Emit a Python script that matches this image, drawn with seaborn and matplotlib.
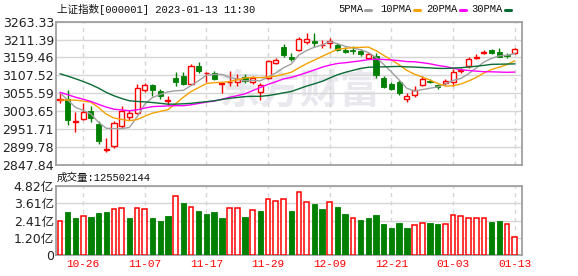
import numpy as np
import pandas as pd
import matplotlib
matplotlib.use("Agg")
import matplotlib.pyplot as plt
import seaborn as sns
from matplotlib.lines import Line2D

# ---------------- data ----------------
dates = ["10-21", "10-24", "10-25", "10-26", "10-27", "10-28", "10-31",
         "11-01", "11-02", "11-03", "11-04", "11-07", "11-08", "11-09", "11-10", "11-11",
         "11-14", "11-15", "11-16", "11-17", "11-18", "11-21", "11-22", "11-23", "11-24",
         "11-25", "11-28", "11-29", "11-30",
         "12-01", "12-02", "12-05", "12-06", "12-07", "12-08", "12-09", "12-12", "12-13",
         "12-14", "12-15", "12-16", "12-19", "12-20", "12-21", "12-22", "12-23", "12-26",
         "12-27", "12-28", "12-29", "12-30",
         "01-03", "01-04", "01-05", "01-06", "01-09", "01-10", "01-11", "01-12", "01-13"]

opens = [3035, 3040, 2972, 2980, 3004, 2966, 2890, 2901, 2961, 2985, 2998, 3066, 3078, 3062, 3034,
         3101, 3104, 3082, 3135, 3113, 3115, 3083, 3087, 3087, 3103, 3088, 3058, 3100, 3143, 3191,
         3160, 3181, 3204, 3208, 3196, 3200, 3197, 3180, 3181, 3179, 3159, 3165, 3101, 3082, 3088,
         3038, 3049, 3080, 3092, 3078, 3084, 3088, 3120, 3134, 3159, 3173, 3180, 3175, 3167, 3172]
highs = [3056, 3065, 3002, 3028, 3017, 2975, 2925, 2975, 3019, 3008, 3083, 3086, 3082, 3068, 3046,
         3118, 3118, 3140, 3147, 3118, 3120, 3088, 3120, 3112, 3110, 3104, 3085, 3153, 3159, 3198,
         3172, 3220, 3230, 3230, 3210, 3217, 3200, 3190, 3192, 3185, 3172, 3172, 3104, 3088, 3094,
         3056, 3075, 3105, 3096, 3082, 3096, 3125, 3128, 3160, 3170, 3182, 3183, 3186, 3171, 3186]
lows = [3027, 2963, 2944, 2978, 2973, 2909, 2884, 2897, 2954, 2978, 2995, 3060, 3048, 3040, 3022,
        3075, 3078, 3078, 3115, 3089, 3094, 3056, 3075, 3075, 3085, 3082, 3036, 3098, 3140, 3162,
        3150, 3178, 3198, 3191, 3188, 3186, 3178, 3172, 3169, 3163, 3156, 3099, 3070, 3064, 3051,
        3031, 3045, 3075, 3084, 3068, 3080, 3077, 3113, 3130, 3154, 3168, 3168, 3160, 3158, 3170]
closes = [3039, 2978, 2976, 3000, 2983, 2916, 2893, 2969, 3003, 2998, 3071, 3078, 3064, 3048, 3036,
          3087, 3083, 3134, 3120, 3115, 3097, 3085, 3089, 3097, 3090, 3100, 3078, 3150, 3151, 3166,
          3156, 3212, 3213, 3200, 3197, 3207, 3181, 3176, 3177, 3169, 3168, 3107, 3074, 3068, 3057,
          3046, 3066, 3096, 3088, 3074, 3090, 3117, 3124, 3156, 3161, 3176, 3171, 3162, 3164, 3183]
prev_close = 3035.05

volumes = [2.40, 2.98, 2.57, 2.71, 2.64, 2.92, 2.98, 3.19, 3.27, 2.57, 3.27, 3.19, 2.57, 2.36, 2.73,
           4.11, 3.61, 3.34, 3.08, 2.87, 3.01, 2.59, 3.27, 3.27, 2.66, 3.12, 3.08, 3.90, 3.76, 3.90,
           3.08, 4.43, 3.73, 3.57, 3.22, 3.73, 3.36, 2.87, 2.61, 2.43, 2.57, 2.80, 2.17, 1.89, 2.24,
           1.88, 2.08, 2.22, 2.24, 2.17, 2.15, 2.78, 2.71, 2.57, 2.57, 2.57, 2.31, 2.38, 2.15, 1.26]

ma5 = [3056.8, 3035.4, 3014.4, 3005.6, 2995.2, 2970.6, 2953.6, 2952.2, 2952.8, 2955.8, 2986.8, 3023.8,
       3042.8, 3051.8, 3059.4, 3062.6, 3063.6, 3077.6, 3092.0, 3107.8, 3109.8, 3110.2, 3101.2, 3096.6,
       3091.4, 3092.4, 3091.2, 3103.4, 3114.2, 3129.4, 3140.2, 3166.8, 3179.4, 3189.2, 3195.6, 3205.8,
       3199.2, 3191.8, 3187.2, 3181.6, 3173.8, 3159.4, 3139.0, 3117.2, 3094.2, 3069.8, 3061.6, 3066.0,
       3069.8, 3073.8, 3082.4, 3092.6, 3098.2, 3111.8, 3128.6, 3146.0, 3156.6, 3164.2, 3165.8, 3170.6]
ma10 = [3035.2, 3035.6, 3035.2, 3032.6, 3029.3, 3013.7, 2994.5, 2983.3, 2979.2, 2975.5, 2978.7, 2988.7,
        2997.5, 3002.3, 3007.6, 3024.7, 3043.7, 3060.2, 3071.9, 3083.6, 3086.2, 3086.9, 3089.4, 3094.3,
        3099.6, 3101.1, 3100.7, 3102.3, 3105.4, 3110.4, 3116.3, 3129.0, 3141.4, 3151.7, 3162.5, 3173.0,
        3183.0, 3185.6, 3188.2, 3188.6, 3189.8, 3179.3, 3165.4, 3152.2, 3137.9, 3121.8, 3110.5, 3102.5,
        3093.5, 3084.0, 3076.1, 3077.1, 3082.1, 3090.8, 3101.2, 3114.2, 3124.6, 3131.2, 3138.8, 3149.6]
ma20 = [3058.0, 3051.1, 3043.8, 3037.9, 3031.6, 3023.0, 3015.1, 3008.9, 3006.8, 3004.6, 3007.0, 3012.2,
        3016.4, 3017.5, 3018.5, 3019.2, 3019.1, 3021.8, 3025.6, 3029.6, 3032.5, 3037.8, 3043.5, 3048.3,
        3053.6, 3062.9, 3072.2, 3081.3, 3088.7, 3097.0, 3101.3, 3108.0, 3115.4, 3123.0, 3131.1, 3137.1,
        3141.9, 3144.0, 3146.8, 3149.5, 3153.1, 3154.2, 3153.4, 3152.0, 3150.2, 3147.4, 3146.8, 3144.1,
        3140.9, 3136.3, 3133.0, 3128.2, 3123.8, 3121.5, 3119.6, 3118.0, 3117.6, 3116.9, 3116.2, 3116.8]
ma30 = [3112.0, 3105.1, 3097.6, 3089.5, 3080.7, 3070.1, 3057.8, 3047.9, 3040.1, 3033.4, 3031.5, 3030.3,
        3028.3, 3026.0, 3023.6, 3023.6, 3024.6, 3026.0, 3028.5, 3030.9, 3033.4, 3037.1, 3040.7, 3043.1,
        3045.5, 3046.5, 3046.3, 3048.6, 3052.2, 3056.5, 3060.4, 3068.2, 3076.1, 3082.8, 3089.9, 3099.6,
        3109.1, 3116.0, 3121.8, 3127.5, 3130.8, 3131.7, 3132.1, 3132.7, 3133.3, 3132.0, 3131.4, 3130.1,
        3129.0, 3127.7, 3127.4, 3128.5, 3129.6, 3131.6, 3133.9, 3136.3, 3139.4, 3139.8, 3140.2, 3140.7]

price_ticks = [2847.84, 2899.78, 2951.71, 3003.65, 3055.59, 3107.52, 3159.46, 3211.39, 3263.33]
vol_ticks = [0, 1.205, 2.41, 3.615, 4.82]
vol_tick_labels = ["0", "1.20亿", "2.41亿", "3.61亿", "4.82亿"]
date_ticks = ["10-26", "11-07", "11-17", "11-29", "12-09", "12-21", "01-03", "01-13"]
ma_names = ["5PMA", "10PMA", "20PMA", "30PMA"]
title = "上证指数[000001] 2023-01-13 11:30"
vol_title = "成交量:125502144"
watermark = "东方财富"

# ---------------- style ----------------
RED = "#ff0000"
GREEN = "#008000"
ma_colors = {"5PMA": "#a0a0a0", "10PMA": "#f5a200", "20PMA": "#ff00ff", "30PMA": "#0a6b35"}
GRID = "#d6d6d6"
FRAME = "#a0a0a0"
TXT = "#222222"

sns.set_theme(style="white")
plt.rcParams["font.family"] = ["DejaVu Sans", "Noto Sans CJK SC"]
MONO = ["Liberation Mono", "Noto Sans CJK SC"]

W, H = 578, 276
fig = plt.figure(figsize=(W / 100, H / 100), dpi=100)
fig.patch.set_facecolor("white")

def fx(px):
    return px / W

def fy(py):
    return 1 - py / H

left, right = 56.0, 522.3
ax_p = fig.add_axes([fx(left), fy(164.6), fx(right - left), (164.6 - 21.7) / H])
ax_v = fig.add_axes([fx(left), fy(255.3), fx(right - left), (255.3 - 186.0) / H])

n = len(dates)
idx = np.arange(n)
xlim = (-0.52, 59.98)
tick_pos = [dates.index(d) for d in date_ticks]

# ---------------- price panel ----------------
o = np.array(opens, float); c = np.array(closes, float)
h = np.array(highs, float); l = np.array(lows, float)
up = c >= o
ccol = np.where(up, RED, GREEN)

ax_p.vlines(idx, l, h, colors=ccol, linewidth=1.0, zorder=2)
body_lo = np.minimum(o, c)
body_h = np.maximum(np.abs(c - o), 0.9)
ax_p.bar(idx[up], body_h[up], bottom=body_lo[up], width=0.66, facecolor="white",
         edgecolor=RED, linewidth=1.0, zorder=3)
ax_p.bar(idx[~up], body_h[~up], bottom=body_lo[~up], width=0.66, facecolor=GREEN,
         edgecolor=GREEN, linewidth=0.6, zorder=3)

ma_df = pd.DataFrame({
    "i": np.tile(idx, 4),
    "v": np.concatenate([ma5, ma10, ma20, ma30]),
    "name": np.repeat(ma_names, n),
})
sns.lineplot(data=ma_df, x="i", y="v", hue="name", palette=ma_colors, hue_order=ma_names,
             estimator=None, sort=False, legend=False, linewidth=1.0, ax=ax_p, zorder=4)

ax_p.set_xlim(*xlim)
ax_p.set_ylim(price_ticks[0], price_ticks[-1])
ax_p.set_yticks(price_ticks)
ax_p.set_yticklabels([f"{t:.2f}" for t in price_ticks])
ax_p.set_xticks(tick_pos)
ax_p.set_xticklabels([])
ax_p.set_xlabel(""); ax_p.set_ylabel("")

ax_p.text(fx(300), fy(92), watermark, transform=fig.transFigure, ha="center", va="center",
          fontsize=29, fontweight="bold", color="#e8e8ee", family=["Noto Sans CJK SC"], zorder=0.5)

# ---------------- volume panel ----------------
vol_up = np.array([closes[0] >= prev_close] + [closes[i] >= closes[i - 1] for i in range(1, n)])
vdf = pd.DataFrame({"i": idx, "vol": volumes, "up": vol_up})
sns.barplot(data=vdf[~vdf["up"]], x="i", y="vol", native_scale=True, color=GREEN,
            saturation=1, width=0.7, edgecolor=GREEN, linewidth=0.6, ax=ax_v, zorder=3)
n_before = len(ax_v.patches)
sns.barplot(data=vdf[vdf["up"]], x="i", y="vol", native_scale=True, color=RED,
            saturation=1, width=0.62, ax=ax_v, zorder=3)
for p in ax_v.patches[n_before:]:
    p.set_facecolor("white")
    p.set_edgecolor(RED)
    p.set_linewidth(1.1)

ax_v.set_xlim(*xlim)
ax_v.set_ylim(0, 4.82)
ax_v.set_yticks(vol_ticks)
ax_v.set_yticklabels(vol_tick_labels)
ax_v.set_xticks(tick_pos)
ax_v.set_xticklabels(date_ticks)
ax_v.set_xlabel(""); ax_v.set_ylabel("")

for ax in (ax_p, ax_v):
    for y in ax.get_yticks():
        ax.axhline(y, color=GRID, linewidth=1.0, zorder=1)
    for x in tick_pos:
        ax.axvline(x, color=GRID, linewidth=1.0, linestyle=(0, (3, 3)), zorder=1)
    for s in ax.spines.values():
        s.set_color(FRAME); s.set_linewidth(1.3); s.set_visible(True)
    ax.tick_params(axis="both", length=0)
    ax.tick_params(axis="y", pad=1.5, labelsize=9, labelcolor=TXT)
    ax.grid(False)

ax_v.tick_params(axis="x", pad=3, labelcolor=RED)
for t in ax_v.get_xticklabels():
    t.set_family(["Liberation Mono"]); t.set_fontsize(8)

# ---------------- header texts ----------------
fig.text(fx(57), fy(9), title, ha="left", va="center", fontsize=7.6, family=MONO, color="#111111")
fig.text(fx(57), fy(177.5), vol_title, ha="left", va="center", fontsize=7.6, family=MONO,
         color="#111111")

leg_x = [338, 380, 426, 471]
for name, x0 in zip(ma_names, leg_x):
    fig.text(fx(x0), fy(9), name, ha="left", va="center", fontsize=7.6, family=MONO,
             color="#111111")
    w = len(name) * 6.3
    fig.add_artist(Line2D([fx(x0 + w + 2), fx(x0 + w + 8)], [fy(9.5), fy(9.5)],
                          color=ma_colors[name], linewidth=2.2, transform=fig.transFigure))

fig.savefig("out.png", dpi=100, facecolor="white")
